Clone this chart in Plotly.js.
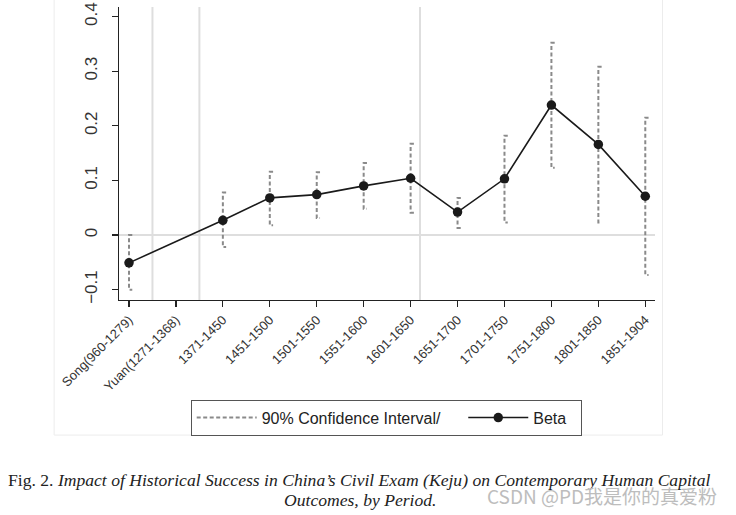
<!DOCTYPE html>
<html>
<head>
<meta charset="utf-8">
<script src="https://cdn.plot.ly/plotly-3.0.1.min.js"></script>
<style>html,body{margin:0;padding:0;background:#fff;}#chart{width:736px;height:515px;}</style>
</head>
<body>
<div id="chart"></div>
<script>
const periods = ["Song(960-1279)", "Yuan(1271-1368)", "1371-1450", "1451-1500", "1501-1550", "1551-1600", "1601-1650", "1651-1700", "1701-1750", "1751-1800", "1801-1850", "1851-1904"];
const betaIndex = [0, 2, 3, 4, 5, 6, 7, 8, 9, 10, 11];
const beta   = [-0.051, 0.027, 0.068, 0.074, 0.090, 0.104, 0.042, 0.103, 0.238, 0.166, 0.071];
const ciLow  = [-0.100, -0.022, 0.018, 0.031, 0.048, 0.041, 0.013, 0.023, 0.123, 0.023, -0.073];
const ciHigh = [0.000, 0.078, 0.116, 0.115, 0.132, 0.167, 0.068, 0.182, 0.352, 0.308, 0.215];
const dynastyBreaks = [0.5, 1.5, 6.2];
const yTicks = [-0.1, 0, 0.1, 0.2, 0.3, 0.4];
const yTickText = ["−0.1", "0", "0.1", "0.2", "0.3", "0.4"];

const capW = 0.07;
const ciX = [], ciY = [];
betaIndex.forEach((xi, i) => {
  ciX.push(xi + capW, xi, xi, xi + capW, null);
  ciY.push(ciHigh[i], ciHigh[i], ciLow[i], ciLow[i], null);
});

const traces = [
  {
    x: ciX, y: ciY, mode: 'lines', type: 'scatter',
    name: '90% Confidence Interval/\u00a0\u00a0\u00a0\u00a0',
    line: {color: '#8a8a8a', width: 2, dash: '4px,2.5px'},
    hoverinfo: 'skip', connectgaps: false
  },
  {
    x: betaIndex, y: beta, mode: 'lines+markers', type: 'scatter',
    name: 'Beta\u00a0\u00a0',
    line: {color: '#1a1a1a', width: 1.6},
    marker: {color: '#1a1a1a', size: 9.5}
  }
];

const shapes = [];
dynastyBreaks.forEach(b => shapes.push({
  type: 'line', xref: 'x', yref: 'paper', x0: b, x1: b, y0: 0, y1: 1,
  line: {color: '#dedede', width: 2}, layer: 'below'
}));
shapes.push({
  type: 'line', xref: 'paper', yref: 'y', x0: 0, x1: 1, y0: 0, y1: 0,
  line: {color: '#dedede', width: 2}, layer: 'below'
});
shapes.push({
  type: 'rect', xref: 'paper', yref: 'paper', x0: -0.121, x1: 1.014, y0: -0.461, y1: 1.05,
  line: {color: '#ececec', width: 1}, layer: 'below'
});

const layout = {
  width: 736, height: 515,
  margin: {l: 119, r: 81, t: 7, b: 215},
  paper_bgcolor: '#ffffff', plot_bgcolor: '#ffffff',
  font: {family: 'Liberation Sans, Arial, sans-serif', color: '#222'},
  showlegend: true,
  xaxis: {
    range: [-0.213, 11.207],
    tickmode: 'array',
    tickvals: periods.map((_, i) => i),
    ticktext: periods,
    tickangle: -45,
    tickfont: {size: 13, color: '#333'},
    ticks: 'outside', ticklen: 6, tickcolor: '#222', tickwidth: 1.2,
    showline: true, linecolor: '#222', linewidth: 1.3,
    showgrid: false, zeroline: false
  },
  yaxis: {
    range: [-0.119, 0.4176],
    tickmode: 'array',
    tickvals: yTicks, ticktext: yTickText,
    tickangle: -90,
    tickfont: {size: 17, color: '#333'},
    ticklabelstandoff: 8,
    ticks: 'outside', ticklen: 6, tickcolor: '#222', tickwidth: 1.2,
    showline: true, linecolor: '#222', linewidth: 1.3,
    showgrid: false, zeroline: false
  },
  legend: {
    orientation: 'h', x: 0.4985, xanchor: 'center', y: -0.34, yanchor: 'top',
    bordercolor: '#555', borderwidth: 1,
    font: {size: 16, color: '#222'},
    itemwidth: 60,
    traceorder: 'normal'
  },
  shapes: shapes,
  annotations: [
    {
      xref: 'paper', yref: 'paper', x: 0.449, y: -0.614, xanchor: 'center', yanchor: 'middle',
      showarrow: false,
      text: "Fig. 2. <i>Impact of Historical Success in China’s Civil Exam (Keju) on Contemporary Human Capital</i>",
      font: {family: 'Liberation Serif, Times New Roman, serif', size: 17.6, color: '#222'}
    },
    {
      xref: 'paper', yref: 'paper', x: 0.449, y: -0.683, xanchor: 'center', yanchor: 'middle',
      showarrow: false,
      text: "<i>Outcomes, by Period.</i>",
      font: {family: 'Liberation Serif, Times New Roman, serif', size: 17.6, color: '#222'}
    },
    {
      xref: 'paper', yref: 'paper', x: 0.902, y: -0.666, xanchor: 'center', yanchor: 'middle',
      showarrow: false,
      text: "CSDN @PD我是你的真爱粉",
      font: {family: 'Noto Sans CJK SC, sans-serif', size: 19, color: '#bdbdbd'}
    }
  ]
};

Plotly.newPlot('chart', traces, layout, {displayModeBar: false, staticPlot: true});
</script>
</body>
</html>
